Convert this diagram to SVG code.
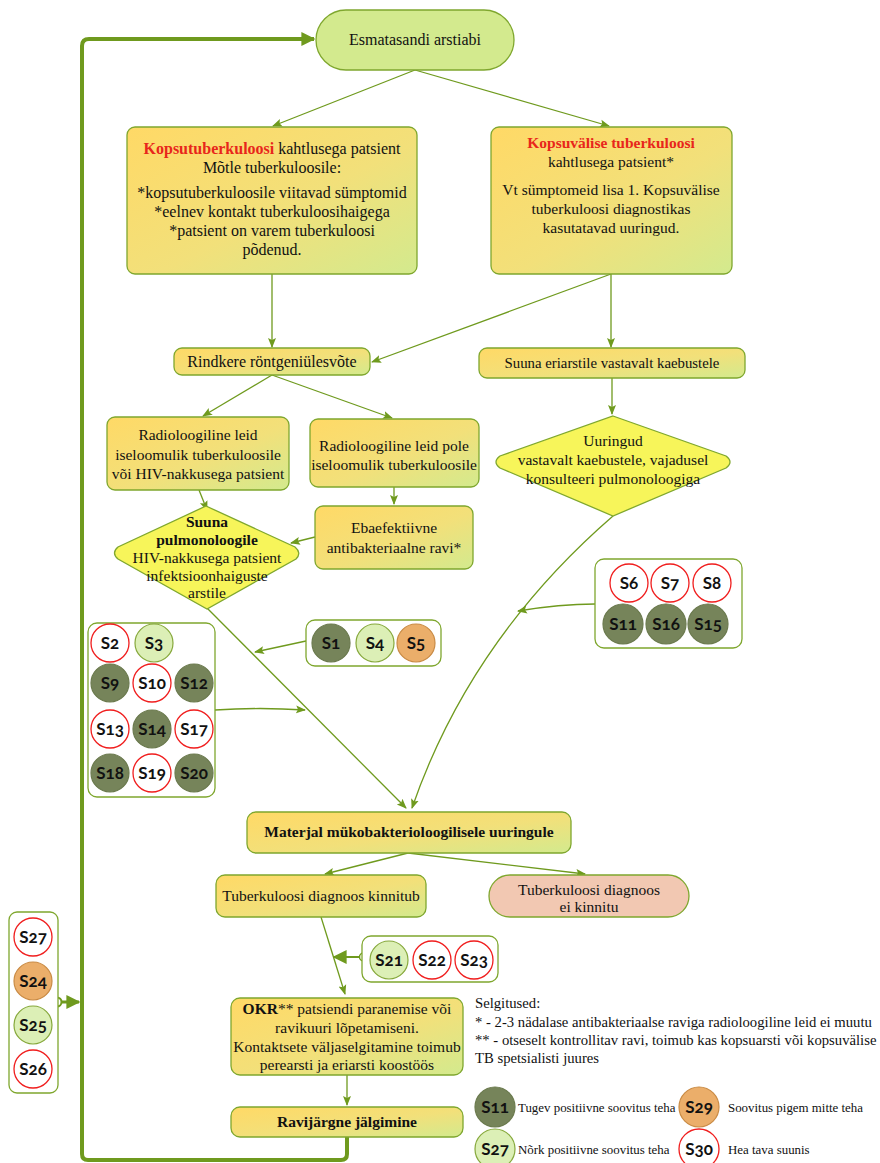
<svg xmlns="http://www.w3.org/2000/svg" width="880" height="1163" viewBox="0 0 880 1163">
<defs>
<linearGradient id="gbox" x1="0" y1="0" x2="1" y2="1">
<stop offset="0" stop-color="#FFD966"/>
<stop offset="0.55" stop-color="#F2E07A"/>
<stop offset="1" stop-color="#D3EA8E"/>
</linearGradient>
<marker id="arr" markerUnits="userSpaceOnUse" markerWidth="10" markerHeight="10" viewBox="0 0 10 10" refX="9" refY="5" orient="auto">
<path d="M0,1 L10,5 L0,9 L2,5 Z" fill="#6F9A1E"/>
</marker>
<marker id="arrbig" markerUnits="userSpaceOnUse" markerWidth="14" markerHeight="14" viewBox="0 0 10 10" refX="9" refY="5" orient="auto">
<path d="M0,0 L10,5 L0,10 Z" fill="#6F9A1E"/>
</marker>
<style>
.box{fill:url(#gbox);stroke:#7FA72E;stroke-width:1.3}
.dia{fill:#F7F55A;stroke:#7FA72E;stroke-width:1.3}
.grp{fill:#fff;stroke:#7FA72E;stroke-width:1.3}
.t{font-family:"Liberation Serif",serif;font-size:15.5px;fill:#111;text-anchor:middle}
.t16{font-size:16px}
.b{font-weight:bold}
.red{fill:#E8261B;font-weight:bold}
.c{stroke-width:1.3;fill:none;stroke:#6F9A1E}
.sd{fill:#76845A;stroke:#6B7A4E;stroke-width:1.2}
.sl{fill:#DCEFB6;stroke:#86A83C;stroke-width:1.2}
.so{fill:#EBAE6A;stroke:#C98B45;stroke-width:1.2}
.sw{fill:#fff;stroke:#F01E1E;stroke-width:1.3}
.st{font-family:Lato,"Open Sans",sans-serif;font-weight:bold;font-size:17px;fill:#111;text-anchor:middle;font-variant-numeric:oldstyle-nums}
.lg{font-family:"Liberation Serif",serif;font-size:12.9px;fill:#111}
.ex{font-family:"Liberation Serif",serif;font-size:14.7px;fill:#111}
</style>
</defs>

<g id="connectors">
<path class="c" d="M415,70 L273,126" marker-end="url(#arr)"/>
<path class="c" d="M415,70 L609,126" marker-end="url(#arr)"/>
<path class="c" d="M272,274 L272,347" marker-end="url(#arr)"/>
<path class="c" d="M611,274 L372,362" marker-end="url(#arr)"/>
<path class="c" d="M611,274 L611,347" marker-end="url(#arr)"/>
<path class="c" d="M272,375 L203,416" marker-end="url(#arr)"/>
<path class="c" d="M272,375 L392,418" marker-end="url(#arr)"/>
<path class="c" d="M394,487 L394,504" marker-end="url(#arr)"/>
<path class="c" d="M315,537 L291,543" marker-end="url(#arr)"/>
<path class="c" d="M199,490 L207,510" marker-end="url(#arr)"/>
<path class="c" d="M612,378 L612,414" marker-end="url(#arr)"/>
<path class="c" d="M207,608 L406,808" marker-end="url(#arr)"/>
<path class="c" d="M613,516 Q470,640 412,808" marker-end="url(#arr)"/>
<path class="c" d="M595,604 Q560,604 518,611" marker-end="url(#arr)"/>
<path class="c" d="M306,641 L255,652" marker-end="url(#arr)"/>
<path class="c" d="M215,710 Q260,707 305,710" marker-end="url(#arr)"/>
<path class="c" d="M408,853 L325,874" marker-end="url(#arr)"/>
<path class="c" d="M408,853 L585,874" marker-end="url(#arr)"/>
<path class="c" d="M321,917 L345,994" marker-end="url(#arr)"/>
<path class="c" d="M347,1075 L347,1105" marker-end="url(#arr)"/>
<path d="M359,957 L334,957" stroke="#6F9A1E" stroke-width="2" fill="none" marker-end="url(#arrbig)"/>
<circle cx="363.5" cy="957" r="4" fill="#fff" stroke="#6F9A1E" stroke-width="1.5"/>
<path d="M347,1137 L347,1154 Q347,1160 341,1160 L88,1160 Q82,1160 82,1154 L82,46 Q82,39 89,39 L314,39" stroke="#6F9A1E" stroke-width="4" fill="none" marker-end="url(#arrbig)"/>
<path d="M61,1002 L79,1002" stroke="#6F9A1E" stroke-width="3" fill="none" marker-end="url(#arrbig)"/>
<circle cx="57" cy="1002" r="4.5" fill="#fff" stroke="#6F9A1E" stroke-width="2"/>
</g>

<g id="n-start">
<rect x="316" y="10" width="198" height="60" rx="30" fill="#D3EA8E" stroke="#7FA72E" stroke-width="1.3"/>
<text class="t t16" x="415" y="45">Esmatasandi arstiabi</text>
</g>

<g id="n-kopsu">
<rect class="box" x="127" y="127" width="290" height="147" rx="8"/>
<text class="t t16" x="272" y="154"><tspan class="red">Kopsutuberkuloosi</tspan> kahtlusega patsient</text>
<text class="t t16" x="272" y="173">Mõtle tuberkuloosile:</text>
<text class="t t16" x="272" y="198">*kopsutuberkuloosile viitavad sümptomid</text>
<text class="t t16" x="272" y="217">*eelnev kontakt tuberkuloosihaigega</text>
<text class="t t16" x="272" y="236">*patsient on varem tuberkuloosi</text>
<text class="t t16" x="272" y="255">põdenud.</text>
</g>

<g id="n-kopsuvalise">
<rect class="box" x="491" y="127" width="241" height="147" rx="8"/>
<text class="t" x="611" y="148"><tspan class="red">Kopsuvälise tuberkuloosi</tspan></text>
<text class="t" x="611" y="167">kahtlusega patsient*</text>
<text class="t" x="611" y="195">Vt sümptomeid lisa 1. Kopsuvälise</text>
<text class="t" x="611" y="214">tuberkuloosi diagnostikas</text>
<text class="t" x="611" y="233">kasutatavad uuringud.</text>
</g>

<g id="n-rindkere">
<rect class="box" x="174" y="348" width="196" height="27" rx="8"/>
<text class="t t16" x="272" y="367">Rindkere röntgeniülesvõte</text>
</g>

<g id="n-eriarst">
<rect class="box" x="479" y="348" width="266" height="30" rx="8"/>
<text class="t" x="612" y="368" style="font-size:14.8px">Suuna eriarstile vastavalt kaebustele</text>
</g>

<g id="n-radA">
<rect class="box" x="107" y="417" width="182" height="73" rx="8"/>
<text class="t" x="198" y="440">Radioloogiline leid</text>
<text class="t" x="198" y="460">iseloomulik tuberkuloosile</text>
<text class="t" x="198" y="479">või HIV-nakkusega patsient</text>
</g>

<g id="n-radB">
<rect class="box" x="310" y="419" width="169" height="68" rx="8"/>
<text class="t" x="394" y="451">Radioloogiline leid pole</text>
<text class="t" x="394" y="470">iseloomulik tuberkuloosile</text>
</g>

<g id="n-ebaef">
<rect class="box" x="315" y="506" width="158" height="63" rx="8"/>
<text class="t" x="394" y="533">Ebaefektiivne</text>
<text class="t" x="394" y="553">antibakteriaalne ravi*</text>
</g>

<g id="n-pulmo">
<path class="dia" d="M206,506 L295,547 Q302,553 296,559 L207,609 L118,559 Q111,553 118,547 Z"/>
<text class="t b" x="207" y="527">Suuna</text>
<text class="t b" x="207" y="545">pulmonoloogile</text>
<text class="t" x="207" y="563">HIV-nakkusega patsient</text>
<text class="t" x="207" y="581">infektsioonhaiguste</text>
<text class="t" x="207" y="598">arstile</text>
</g>

<g id="n-uuringud">
<path class="dia" d="M613,416 L726,456 Q734,462 726,468 L613,516 L500,468 Q492,462 500,456 Z"/>
<text class="t" x="613" y="446">Uuringud</text>
<text class="t" x="613" y="465">vastavalt kaebustele, vajadusel</text>
<text class="t" x="613" y="484">konsulteeri pulmonoloogiga</text>
</g>

<g id="g-s6">
<rect class="grp" x="595" y="559" width="147" height="89" rx="9"/>
<circle class="sw" cx="629" cy="583" r="19"/><text class="st" x="629" y="589">S6</text>
<circle class="sw" cx="670" cy="583" r="19"/><text class="st" x="670" y="589">S7</text>
<circle class="sw" cx="712" cy="583" r="19"/><text class="st" x="712" y="589">S8</text>
<circle class="sd" cx="623" cy="624" r="20"/><text class="st" x="623" y="630">S11</text>
<circle class="sd" cx="666" cy="624" r="20"/><text class="st" x="666" y="630">S16</text>
<circle class="sd" cx="708" cy="624" r="20"/><text class="st" x="708" y="630">S15</text>
</g>

<g id="g-s1">
<rect class="grp" x="306" y="620" width="135" height="46" rx="9"/>
<circle class="sd" cx="331" cy="643" r="19"/><text class="st" x="331" y="649">S1</text>
<circle class="sl" cx="375" cy="643" r="19"/><text class="st" x="375" y="649">S4</text>
<circle class="so" cx="416" cy="643" r="19"/><text class="st" x="416" y="649">S5</text>
</g>

<g id="g-s2">
<rect class="grp" x="88" y="623" width="127" height="174" rx="9"/>
<circle class="sw" cx="110" cy="643" r="19"/><text class="st" x="110" y="649">S2</text>
<circle class="sl" cx="154" cy="643" r="19"/><text class="st" x="154" y="649">S3</text>
<circle class="sd" cx="110" cy="683" r="19"/><text class="st" x="110" y="689">S9</text>
<circle class="sw" cx="152" cy="683" r="19"/><text class="st" x="152" y="689">S10</text>
<circle class="sd" cx="194" cy="683" r="19"/><text class="st" x="194" y="689">S12</text>
<circle class="sw" cx="110" cy="729" r="19"/><text class="st" x="110" y="735">S13</text>
<circle class="sd" cx="152" cy="729" r="19"/><text class="st" x="152" y="735">S14</text>
<circle class="sw" cx="194" cy="729" r="19"/><text class="st" x="194" y="735">S17</text>
<circle class="sd" cx="110" cy="773" r="19"/><text class="st" x="110" y="779">S18</text>
<circle class="sw" cx="152" cy="773" r="19"/><text class="st" x="152" y="779">S19</text>
<circle class="sd" cx="194" cy="773" r="19"/><text class="st" x="194" y="779">S20</text>
</g>

<g id="n-materjal">
<rect class="box" x="247" y="812" width="324" height="41" rx="9"/>
<text class="t b" x="409" y="837">Materjal mükobakterioloogilisele uuringule</text>
</g>

<g id="n-kinnitub">
<rect class="box" x="216" y="875" width="210" height="42" rx="9"/>
<text class="t" x="321" y="901">Tuberkuloosi diagnoos kinnitub</text>
</g>

<g id="n-eikinnitu">
<rect x="489" y="875" width="200" height="42" rx="21" fill="#F2C8B2" stroke="#7FA72E" stroke-width="1.3"/>
<text class="t" x="589" y="895">Tuberkuloosi diagnoos</text>
<text class="t" x="589" y="912">ei kinnitu</text>
</g>

<g id="g-s21">
<rect class="grp" x="362" y="936" width="136" height="46" rx="9"/>
<circle class="sl" cx="389" cy="960" r="19"/><text class="st" x="389" y="966">S21</text>
<circle class="sw" cx="432" cy="960" r="19"/><text class="st" x="432" y="966">S22</text>
<circle class="sw" cx="474" cy="960" r="19"/><text class="st" x="474" y="966">S23</text>
</g>

<g id="n-okr">
<rect class="box" x="231" y="998" width="232" height="77" rx="9"/>
<text class="t" x="347" y="1014"><tspan class="b">OKR</tspan>** patsiendi paranemise või</text>
<text class="t" x="347" y="1033">ravikuuri lõpetamiseni.</text>
<text class="t" x="347" y="1052">Kontaktsete väljaselgitamine toimub</text>
<text class="t" x="347" y="1070">perearsti ja eriarsti koostöös</text>
</g>

<g id="n-ravijargne">
<rect class="box" x="231" y="1107" width="232" height="30" rx="9"/>
<text class="t b" x="347" y="1127">Ravijärgne jälgimine</text>
</g>

<g id="g-s27">
<rect class="grp" x="9" y="912" width="49" height="181" rx="8"/>
<circle class="sw" cx="33" cy="937" r="19"/><text class="st" x="33" y="943">S27</text>
<circle class="so" cx="33" cy="981" r="19"/><text class="st" x="33" y="987">S24</text>
<circle class="sl" cx="33" cy="1025" r="19"/><text class="st" x="33" y="1031">S25</text>
<circle class="sw" cx="33" cy="1069" r="19"/><text class="st" x="33" y="1075">S26</text>
</g>

<g id="notes">
<text class="ex" x="475" y="1008">Selgitused:</text>
<text class="ex" x="475" y="1027">* - 2-3 nädalase antibakteriaalse raviga radioloogiline leid ei muutu</text>
<text class="ex" x="475" y="1045">** - otseselt kontrollitav ravi, toimub kas kopsuarsti või kopsuvälise</text>
<text class="ex" x="475" y="1063">TB spetsialisti juures</text>
</g>

<g id="legend">
<circle class="sd" cx="495" cy="1107" r="20"/><text class="st" x="495" y="1113">S11</text>
<text class="lg" x="518" y="1112">Tugev positiivne soovitus teha</text>
<circle class="so" cx="699" cy="1107" r="20"/><text class="st" x="699" y="1113">S29</text>
<text class="lg" x="728" y="1112">Soovitus pigem mitte teha</text>
<circle class="sl" cx="495" cy="1149" r="20"/><text class="st" x="495" y="1155">S27</text>
<text class="lg" x="518" y="1154">Nõrk positiivne soovitus teha</text>
<circle class="sw" cx="699" cy="1149" r="20"/><text class="st" x="699" y="1155">S30</text>
<text class="lg" x="728" y="1154">Hea tava suunis</text>
</g>
</svg>
